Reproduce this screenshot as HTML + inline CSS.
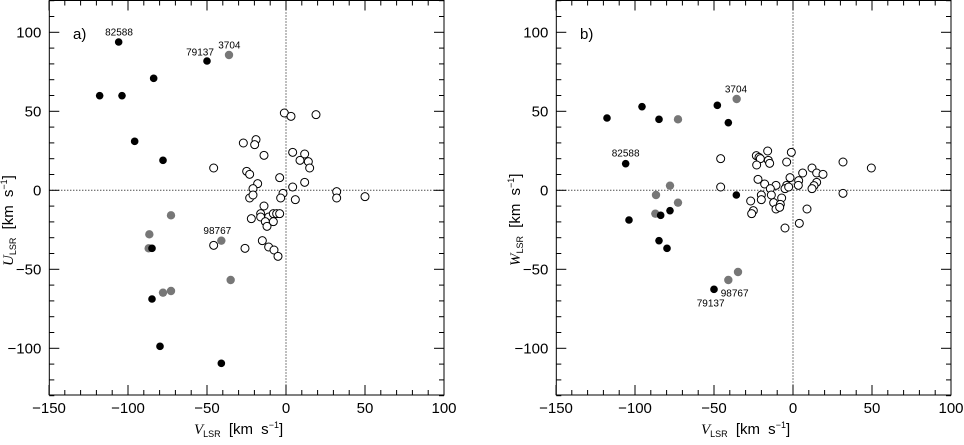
<!DOCTYPE html>
<html><head><meta charset="utf-8"><style>
html,body{margin:0;padding:0;background:#fff;}
svg text{font-family:"Liberation Sans",sans-serif;fill:#000;}
</style></head><body>
<svg id="s" width="964" height="440" viewBox="0 0 964 440" xmlns="http://www.w3.org/2000/svg"></svg>
<script>
const s=document.getElementById('s');let h='';
function panel(ox,po,letter,ylab,blk,gry,opn,labels){
  const L=ox+49.3,R=ox+444,T=0.5,B=395,x0=ox+286,y0=190.3,k=1.58;
  h+=`<rect x="${L}" y="${T}" width="${R-L}" height="${B-T}" fill="none" stroke="#000" stroke-width="1"/>`;
  h+=`<line x1="${x0}" y1="${T}" x2="${x0}" y2="${B}" stroke="#000" stroke-dasharray="1,2" stroke-width="1"/>`;
  h+=`<line x1="${L}" y1="${y0}" x2="${R}" y2="${y0}" stroke="#000" stroke-dasharray="1,2" stroke-width="1"/>`;
  for(let v=-150;v<=100;v+=10){const x=x0+v*k,m=v%50==0?10:5;
    h+=`<line x1="${x}" y1="${B}" x2="${x}" y2="${B-m}" stroke="#000"/><line x1="${x}" y1="${T}" x2="${x}" y2="${T+m}" stroke="#000"/>`;
    if(v%50==0)h+=`<text x="${x}" y="413" font-size="15" text-anchor="middle">${v<0?'\u2212'+(-v):v}</text>`;}
  for(let v=-130;v<=120;v+=10){const y=y0-v*k,m=v%50==0?10:5;
    h+=`<line x1="${L}" y1="${y}" x2="${L+m}" y2="${y}" stroke="#000"/><line x1="${R}" y1="${y}" x2="${R-m}" y2="${y}" stroke="#000"/>`;
    if(v%50==0&&v>=-100&&v<=100)h+=`<text x="${L-8}" y="${y+5}" font-size="15" text-anchor="end">${v<0?'\u2212'+(-v):v}</text>`;}
  h+=`<text x="${ox+73}" y="39" font-size="15">${letter})</text>`;
  h+=`<text x="${ox+194}" y="434" font-size="15" word-spacing="4"><tspan font-family="Liberation Serif" font-style="italic">V</tspan><tspan font-size="9" dy="3">LSR</tspan><tspan dy="-3">   [km  s</tspan><tspan font-size="9" dy="-6">−1</tspan><tspan dy="6">]</tspan></text>`;
  h+=`<text transform="translate(${ox+13},${266}) rotate(-90)" font-size="15" word-spacing="4"><tspan font-family="Liberation Serif" font-style="italic">${ylab}</tspan><tspan font-size="9" dy="3">LSR</tspan><tspan dy="-3">   [km  s</tspan><tspan font-size="9" dy="-6">−1</tspan><tspan dy="6">]</tspan></text>`;
  for(const p of opn)h+=`<circle cx="${po+p[0]/3}" cy="${p[1]/3}" r="4" fill="#fff" stroke="#000" stroke-width="1"/>`;
  for(const p of gry)h+=`<circle cx="${po+p[0]/3}" cy="${p[1]/3}" r="4.2" fill="#777"/>`;
  for(const p of blk)h+=`<circle cx="${po+p[0]/3}" cy="${p[1]/3}" r="3.8" fill="#000"/>`;
  for(const l of labels)h+=`<text x="${po+l[0]/3}" y="${l[1]/3}" font-size="10" text-anchor="middle">${l[2]}</text>`;
}
panel(0,0,'a','U',
[[356,126],[621,183],[461,235],[299,287],[366,287],[404,424],[489,481],[456,745],[456,897],[480,1039],[664,1090]],
[[687,165],[513,646],[448,703],[446,745],[664,722],[489,878],[513,873],[692,840]],
[[853,339],[873,349],[948,344],[730,429],[768,419],[764,434],[792,466],[641,504],[878,457],[914,462],[900,481],[925,485],[929,504],[740,514],[749,523],[839,533],[773,551],[759,566],[914,547],[878,561],[749,594],[759,585],[849,580],[842,594],[886,599],[1010,575],[1010,594],[1095,590],[792,618],[782,641],[782,651],[754,656],[806,651],[796,665],[801,679],[820,641],[830,641],[839,641],[820,665],[641,736],[735,745],[787,722],[806,741],[822,750],[834,769]],
[[357,107,'82588'],[600,167,'79137'],[688,145,'3704'],[652,702,'98767']]);
panel(507,484,'b','W',
[[369,354],[474,320],[525,358],[700,316],[733,368],[425,491],[757,585],[435,660],[530,646],[558,632],[525,722],[549,745],[690,868]],
[[758,297],[582,358],[558,557],[516,585],[582,608],[514,641],[733,840],[762,816]],
[[710,476],[710,561],[817,467],[825,472],[829,476],[818,495],[851,453],[853,481],[857,490],[908,486],[922,457],[822,538],[842,552],[832,585],[832,599],[876,556],[859,566],[862,585],[869,608],[876,627],[893,594],[889,613],[887,622],[903,684],[908,556],[903,566],[914,561],[918,533],[944,542],[943,556],[956,519],[984,504],[998,519],[1017,523],[969,627],[946,670],[998,547],[990,557],[984,566],[800,603],[808,632],[803,641],[1077,486],[1162,504],[1077,580]],
[[425,470,'82588'],[756,277,'3704'],[752,890,'98767'],[680,920,'79137']]);
s.innerHTML=h;
</script>
</body></html>
